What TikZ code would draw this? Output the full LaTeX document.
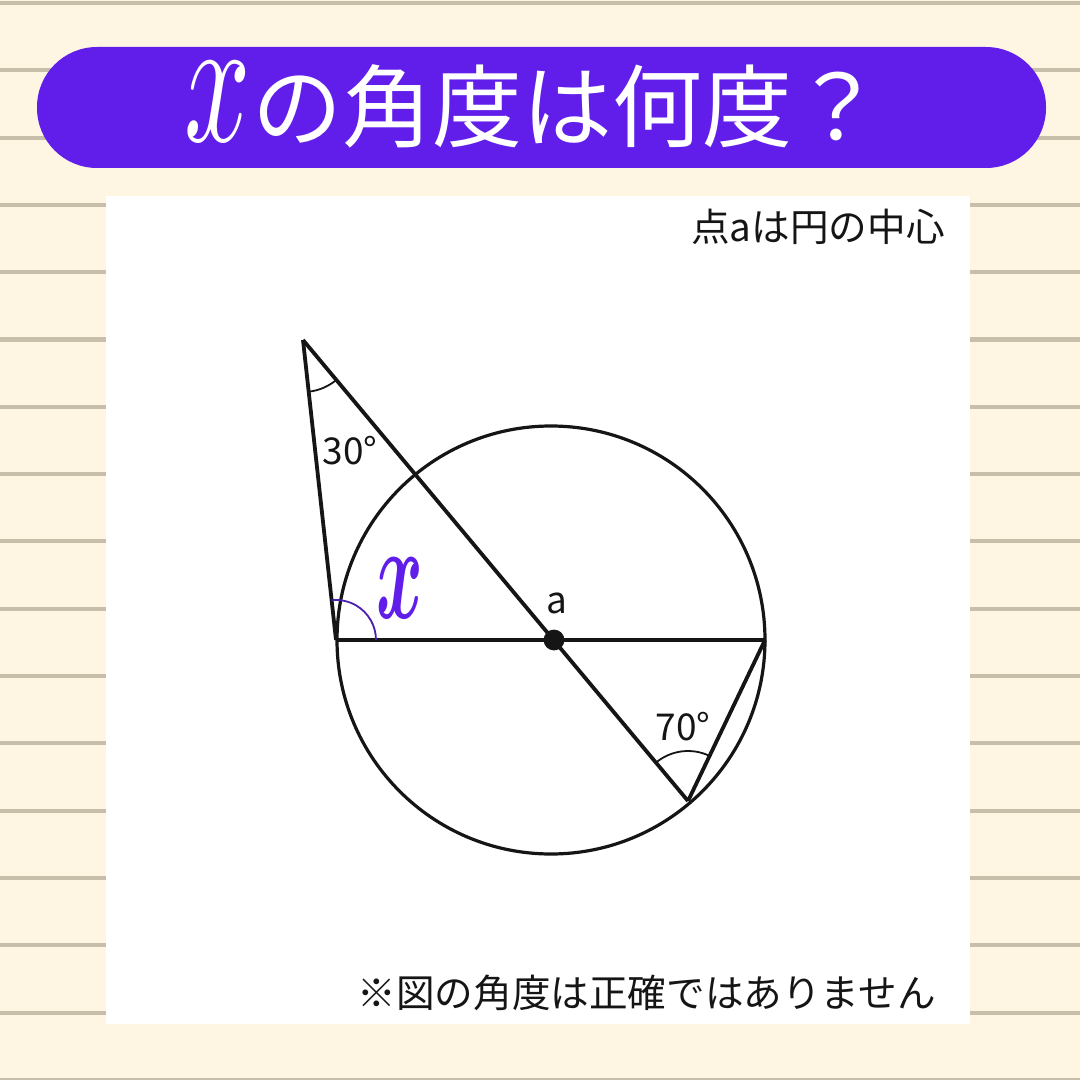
\documentclass[tikz,border=0pt]{standalone}
\usepackage{fontspec}
\usepackage{graphicx}
\newfontfamily\jp{Noto Sans CJK JP}
\usetikzlibrary{angles}
\definecolor{bg}{HTML}{FEF6E2}
\definecolor{rulec}{HTML}{C8BFAA}
\definecolor{vio}{HTML}{611EEA}
\definecolor{vioarc}{HTML}{4A1FB0}
\definecolor{ink}{HTML}{151515}
\newcommand{\titlex}{\scalebox{5.8}[9.2]{$x$}}
\newcommand{\bigx}{\scalebox{3.55}[6.8]{\mathversion{bold}$x$}}
\tikzset{
  geo/.style={draw=ink, line width=1.9pt},
  circ/.style={draw=ink, line width=1.6pt},
  angmark/.style={draw=ink, line width=0.9pt},
  lbl/.style={text=ink, font=\jp\fontsize{18.5}{18.5}\selectfont, inner sep=0pt},
  note/.style={text=ink, font=\jp\fontsize{19.3}{19.3}\selectfont, inner sep=0pt},
}
\begin{document}
\begin{tikzpicture}[x=0.5pt,y=-0.5pt]
% background
\fill[bg] (0,0) rectangle (1080,1080);
\useasboundingbox (0,0) rectangle (1080,1080);
\foreach \k in {0,...,16}{
  \fill[rulec] (0,{3+67.3*\k-2}) rectangle (1080,{3+67.3*\k+2});
}
% title banner
\fill[vio, rounded corners=30pt] (37,47) rectangle (1046,168);
\node[text=white, inner sep=0pt] (titlex) at (218,102) {\titlex};
\node[text=white, font=\jp\fontsize{45}{45}\selectfont, inner sep=0pt, anchor=base west] (title) at (252,141) {の角度は何度？};
% white panel
\fill[white] (106,196) rectangle (970,1024);
\node[note, anchor=east] (n1) at (945,227) {点aは円の中心};
\node[note, anchor=east] (n2) at (936,993) {※図の角度は正確ではありません};
% geometry
\coordinate (P) at (303,340);
\coordinate (L) at (336,640);
\coordinate (R) at (765,640);
\coordinate (A) at (554,640);
\coordinate (C) at (551,640);
\coordinate (D) at (688,801);
\draw[circ] (C) circle[radius=107pt];
\draw[geo] (P) -- (L);
\draw[geo] (P) -- (D);
\draw[geo] (L) -- (R);
\draw[geo, line join=round] (R) -- (D);
\fill[ink] (A) circle[radius=5.2pt];
% angle marks
\pic[angmark, angle radius=26pt] {angle=L--P--A};
\pic[draw=vioarc, line width=0.9pt, angle radius=20pt] {angle=R--L--P};
\pic[angmark, angle radius=25pt] {angle=R--D--A};
% labels
\node[lbl] (t30) at (350,451) {30°};
\node[lbl] (t70) at (683,727) {70°};
\node[lbl] (ta) at (557,603) {a};
\node[text=vio, inner sep=0pt] (tx) at (400,588) {\bigx};
\end{tikzpicture}
\end{document}
